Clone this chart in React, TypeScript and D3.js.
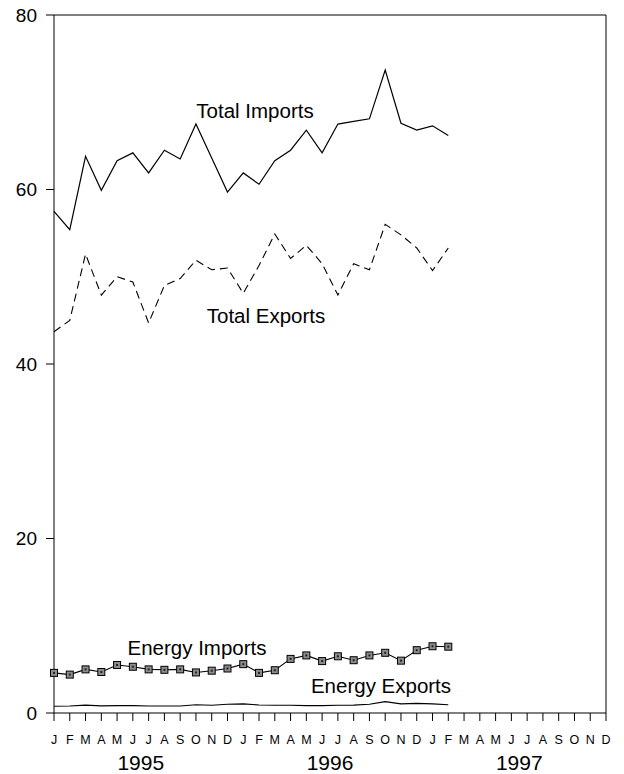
import { useRef, useEffect } from "react";
import * as d3 from "d3";

// monthly values, Jan 1995 .. Feb 1997
const years = ["1995", "1996", "1997"];
const monthLetters = ["J", "F", "M", "A", "M", "J", "J", "A", "S", "O", "N", "D"];
const yTicks = [0, 20, 40, 60, 80];

const totalImports = [
  57.5, 55.4, 63.8, 59.9, 63.3, 64.2, 61.9, 64.5, 63.5, 67.5, 63.6, 59.7,
  61.9, 60.6, 63.3, 64.5, 66.8, 64.2, 67.5, 67.8, 68.1, 73.7, 67.6, 66.8,
  67.3, 66.2,
];
const totalExports = [
  43.7, 45.0, 52.6, 47.9, 50.0, 49.4, 44.7, 49.0, 49.8, 51.9, 50.8, 51.0,
  48.1, 51.3, 54.9, 52.1, 53.6, 51.5, 47.9, 51.5, 50.8, 56.0, 54.8, 53.3,
  50.7, 53.3,
];
const energyImports = [
  4.6, 4.4, 5.0, 4.7, 5.5, 5.3, 5.0, 4.95, 5.0, 4.65, 4.85, 5.1,
  5.6, 4.6, 4.9, 6.2, 6.6, 5.95, 6.5, 6.05, 6.6, 6.9, 6.0, 7.2,
  7.65, 7.6,
];
const energyExports = [
  0.78, 0.8, 0.9, 0.82, 0.85, 0.85, 0.8, 0.8, 0.8, 0.95, 0.88, 1.0,
  1.05, 0.92, 0.88, 0.88, 0.85, 0.85, 0.88, 0.9, 1.0, 1.3, 1.05, 1.1,
  1.05, 0.95,
];

const W = 624;
const H = 774;
const FONT = "Arial, 'Liberation Sans', Helvetica, sans-serif";

export default function App() {
  const svgRef = useRef<SVGSVGElement>(null);

  useEffect(() => {
    if (!svgRef.current) return;
    const svg = d3.select(svgRef.current);
    svg.selectAll("*").remove();

    const left = 54, right = 606, top = 15, bottom = 713;

    const months: string[] = [];
    years.forEach((yr) => monthLetters.forEach((_, i) => months.push(`${yr}-${i}`)));

    const x = d3.scalePoint<string>().domain(months).range([left, right]);
    const y = d3.scaleLinear().domain([0, 80]).range([bottom, top]);

    // frame
    svg.append("path")
      .attr("d", `M${left},${bottom}V${top}H${right}V${bottom}Z`)
      .attr("fill", "none")
      .attr("stroke", "#000")
      .attr("stroke-width", 1);

    // y axis
    const yg = svg.append("g");
    yTicks.forEach((t) => {
      yg.append("line")
        .attr("x1", left - 8).attr("x2", left)
        .attr("y1", y(t)).attr("y2", y(t))
        .attr("stroke", "#000");
      yg.append("text")
        .attr("x", 37)
        .attr("y", y(t))
        .attr("dy", "0.35em")
        .attr("text-anchor", "end")
        .attr("font-family", FONT)
        .attr("font-size", 19)
        .text(t);
    });

    // x axis
    const xg = svg.append("g");
    months.forEach((m, i) => {
      xg.append("line")
        .attr("x1", x(m)!).attr("x2", x(m)!)
        .attr("y1", bottom).attr("y2", bottom + 8)
        .attr("stroke", "#000");
      xg.append("text")
        .attr("x", x(m)!)
        .attr("y", 744)
        .attr("text-anchor", "middle")
        .attr("font-family", FONT)
        .attr("font-size", 12.5)
        .text(monthLetters[i % 12]);
    });
    years.forEach((yr) => {
      const cx = (x(`${yr}-0`)! + x(`${yr}-11`)!) / 2;
      xg.append("text")
        .attr("x", cx)
        .attr("y", 770)
        .attr("text-anchor", "middle")
        .attr("font-family", FONT)
        .attr("font-size", 21)
        .text(yr);
    });

    const line = d3.line<number>()
      .x((_, i) => x(months[i])!)
      .y((d) => y(d));

    svg.append("path")
      .attr("d", line(totalImports))
      .attr("fill", "none")
      .attr("stroke", "#000")
      .attr("stroke-width", 1.2);

    svg.append("path")
      .attr("d", line(totalExports))
      .attr("fill", "none")
      .attr("stroke", "#000")
      .attr("stroke-width", 1.1)
      .attr("stroke-dasharray", "8,5");

    svg.append("path")
      .attr("d", line(energyExports))
      .attr("fill", "none")
      .attr("stroke", "#000")
      .attr("stroke-width", 1.1);

    svg.append("path")
      .attr("d", line(energyImports))
      .attr("fill", "none")
      .attr("stroke", "#000")
      .attr("stroke-width", 1.1);

    // square markers
    const mk = svg.append("g");
    energyImports.forEach((v, i) => {
      const cx = x(months[i])!;
      const cy = y(v);
      mk.append("rect")
        .attr("x", cx - 3.5).attr("y", cy - 3.5)
        .attr("width", 7).attr("height", 7)
        .attr("fill", "#8c8c8c")
        .attr("stroke", "#000")
        .attr("stroke-width", 1);
      mk.append("rect")
        .attr("x", cx - 1).attr("y", cy - 1)
        .attr("width", 2).attr("height", 2)
        .attr("fill", "#222");
    });

    // series labels
    const labels = [
      { text: "Total Imports", x: 255, y: 118 },
      { text: "Total Exports", x: 266, y: 323 },
      { text: "Energy Imports", x: 197, y: 655 },
      { text: "Energy Exports", x: 381, y: 693 },
    ];
    labels.forEach((l) => {
      svg.append("text")
        .attr("x", l.x)
        .attr("y", l.y)
        .attr("text-anchor", "middle")
        .attr("font-family", FONT)
        .attr("font-size", 20.5)
        .attr("fill", "#000")
        .text(l.text);
    });
  }, []);

  return (
    <svg
      ref={svgRef}
      width={W}
      height={H}
      style={{ position: "absolute", left: 0, top: 0, background: "#fff" }}
    />
  );
}
